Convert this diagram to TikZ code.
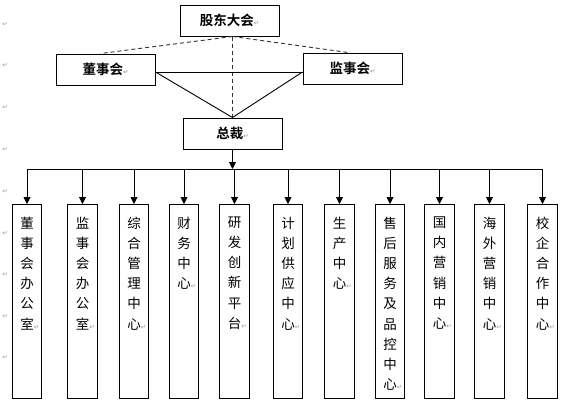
\documentclass[tikz,border=0pt]{standalone}
\usepackage{fontspec}
\newfontfamily\cjk{Noto Sans CJK SC}
\newfontfamily\cjkb{Noto Sans CJK SC Bold}
\newfontfamily\symf{DejaVu Sans}
\usetikzlibrary{arrows.meta,calc}
\newcommand{\retmark}{{\symf\fontsize{6.5}{7}\selectfont\color{black!40}↵}}
\tikzset{
  topbox/.style={draw, line width=1pt, minimum width=99pt, minimum height=31pt, inner sep=0pt,
    font=\cjkb\fontsize{13.5}{15}\selectfont},
  dept/.style={draw, line width=1pt, minimum width=29.5pt, minimum height=194pt, inner sep=0pt, anchor=north},
  depttext/.style={anchor=north, inner sep=0pt, align=center, font=\cjk\fontsize{13.5}{20.2}\selectfont},
  conn/.style={line width=0.9pt},
  dconn/.style={line width=0.9pt, dash pattern=on 4pt off 3pt, draw=black!80},
  arr/.style={line width=0.9pt, -{Triangle[width=7pt,length=7pt]}},
  pmark/.style={inner sep=0pt}
}
\begin{document}
\begin{tikzpicture}[x=1pt,y=-1pt]
\useasboundingbox (0,0) rectangle (586,410);
\fill[white] (0,0) rectangle (586,410);

% margin paragraph marks
\foreach \yy [count=\i] in {24,65.5,107,149,191,233,274.5,316,357.5}
  \node[pmark] (pm\i) at (5,\yy) {\retmark};

% top boxes
\node[topbox] (top) at (229.5,20.5) {股东大会\retmark};
\node[topbox] (dsh) at (105.5,69.5) {董事会\retmark};
\node[topbox] (jsh) at (352.5,68.5) {监事会\retmark};
\node[topbox] (zc)  at (232.5,133.5) {总裁\retmark};

\coordinate (tp) at (top.south -| zc.north);
\draw[dconn] (tp) -- ($(dsh.north)+(-5,0)$);
\draw[dconn] (tp) -- ($(jsh.north)+(-4.5,0)$);
\draw[dconn] (tp) -- (zc.north);

\coordinate (dr) at ($(dsh.east)+(0,2.5)$);
\coordinate (jl) at ($(jsh.west)+(0,3.5)$);
\draw[conn] (dr) -- (jl);
\draw[conn] (dr) -- (zc.north);
\draw[conn] (jl) -- (zc.north);

% departments
\foreach \n/\xx/\t in {
  d1/27/{董\\事\\会\\办\\公\\室},
  d2/82.5/{监\\事\\会\\办\\公\\室},
  d3/134/{综\\合\\管\\理\\中\\心},
  d4/184/{财\\务\\中\\心},
  d5/234.5/{研\\发\\创\\新\\平\\台},
  d6/288/{计\\划\\供\\应\\中\\心},
  d7/339.5/{生\\产\\中\\心},
  d8/390/{售\\后\\服\\务\\及\\品\\控\\中\\心},
  d9/439.5/{国\\内\\营\\销\\中\\心},
  d10/489.5/{海\\外\\营\\销\\中\\心},
  d11/542.5/{校\\企\\合\\作\\中\\心}}
{
  \node[dept] (\n) at (\xx,204) {};
  \node[depttext] (\n t) at ($(\n.north)+(0,12.5)$) {\t\rlap{\retmark}};
}

\coordinate (busL) at (d1.north |- 0,169);
\coordinate (busR) at (d11.north |- 0,169);
\draw[conn] (busL) -- (busR);
\draw[arr] (zc.south) -- (zc.south |- busL);
\foreach \n in {d1,d2,d3,d4,d5,d6,d7,d8,d9,d10,d11}
  \draw[arr] (\n.north |- busL) -- (\n.north);
\end{tikzpicture}
\end{document}
